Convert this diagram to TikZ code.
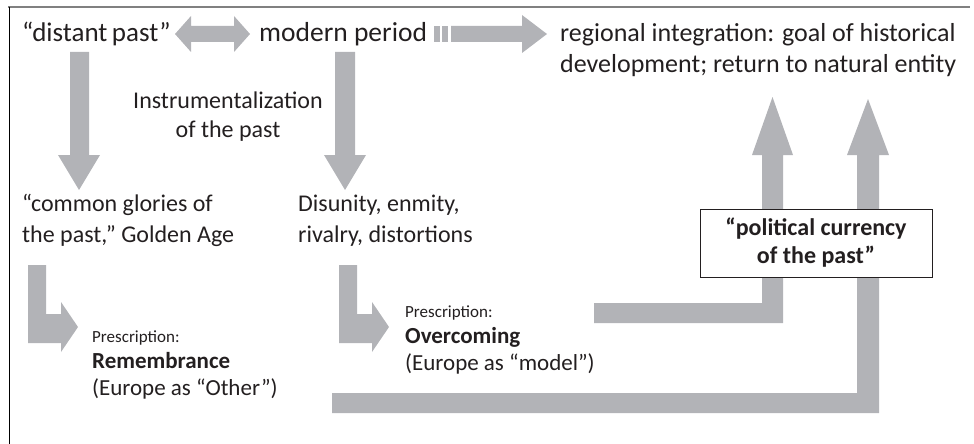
\documentclass[tikz,border=0pt]{standalone}
\usepackage{fontspec}
\setmainfont{Carlito}
\definecolor{arrowgray}{RGB}{178,179,183}
\definecolor{inkgray}{RGB}{35,31,32}
\tikzset{
  txt/.style={inner sep=0pt, text=inkgray, align=left},
  block/.style={fill=arrowgray},
}

\begin{document}
\begin{tikzpicture}[x=1pt,y=-1pt]
\useasboundingbox (0,0) rectangle (974,444);
\draw[gray, line width=1.5pt] (8,7) -- (970,7);
\draw[black, line width=0.8pt] (9,7) -- (9,444);

% top row
\node[txt, anchor=base west, font=\fontsize{27}{32}\selectfont] (distant) at (22,42) {“distant\,past”};
\node[txt, anchor=base west, font=\fontsize{27.5}{32}\selectfont] (modern) at (259,42) {modern period};
\node[txt, anchor=base west, font=\fontsize{26}{31}\selectfont] (regional) at (560,73) {regional integration: goal of historical\\development; return to natural entity};
\fill[block] (175,34) -- (191,16) -- (191,26) -- (234,26) -- (234,16) -- (250,34) -- (234,52) -- (234,42) -- (191,42) -- (191,52) -- cycle;
\fill[block] (434,26) rectangle (440,42);
\fill[block] (442,26) rectangle (448,42);
\fill[block] (451,26) -- (522,26) -- (522,15) -- (547,34) -- (522,53) -- (522,42) -- (451,42) -- cycle;

% down to the two readings
\fill[block] (70,52) -- (89,52) -- (89,155) -- (100,155) -- (79,190) -- (58,155) -- (70,155) -- cycle;
\fill[block] (335,52) -- (355,52) -- (355,155) -- (366,155) -- (345,190) -- (324,155) -- (335,155) -- cycle;
\node[txt, align=center, anchor=base, font=\fontsize{24}{29}\selectfont] (instr) at (228,137) {Instrumentalization\\of the past};
\node[txt, anchor=base west, font=\fontsize{24}{31}\selectfont] (glories) at (22,242) {“common glories of\\the past,” Golden Age};
\node[txt, anchor=base west, font=\fontsize{24}{31}\selectfont] (disunity) at (298,242) {Disunity, enmity,\\rivalry, distortions};

% prescriptions
\fill[block] (28,265) -- (46,265) -- (46,314) -- (61,314) -- (61,302) -- (78,327) -- (61,352) -- (61,343) -- (28,343) -- cycle;
\fill[block] (339,265) -- (357,265) -- (357,314) -- (372,314) -- (372,302) -- (389,327) -- (372,352) -- (372,343) -- (339,343) -- cycle;
\node[txt, anchor=base west, font=\fontsize{23}{26.5}\selectfont] (remember) at (92,395)
  {{\fontsize{17}{20}\selectfont Prescription:}\\{\bfseries Remembrance}\\(Europe as “Other”)};
\node[txt, anchor=base west, font=\fontsize{23}{26.5}\selectfont] (overcome) at (405,370)
  {{\fontsize{17}{20}\selectfont Prescription:}\\{\bfseries Overcoming}\\(Europe as “model”)};

% back up to the goal
\fill[block] (594,303) -- (762,303) -- (762,155) -- (752,155) -- (772.5,97) -- (793,155) -- (783,155) -- (783,323) -- (594,323) -- cycle;
\fill[block] (332,393) -- (857,393) -- (857,155) -- (847,155) -- (868,99) -- (889,155) -- (879,155) -- (879,413) -- (332,413) -- cycle;
\node[draw=inkgray, fill=white, line width=1pt, inner sep=0pt, minimum width=232pt, minimum height=68pt,
  align=center, text=inkgray, font=\bfseries\fontsize{24}{28}\selectfont] (currency) at (816,243)
  {“political currency\\of the past”};
\end{tikzpicture}
\end{document}
